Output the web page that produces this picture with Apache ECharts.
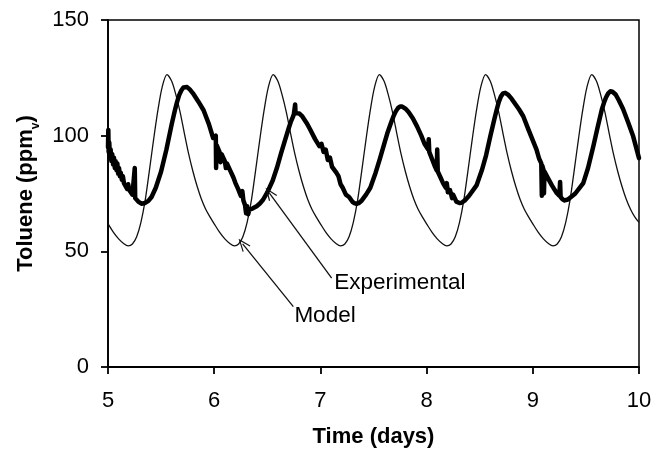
<!DOCTYPE html>
<html>
<head>
<meta charset="utf-8">
<script src="https://cdn.jsdelivr.net/npm/echarts@6/dist/echarts.min.js"></script>
<style>
html,body{margin:0;padding:0;background:#fff;}
#chart{width:654px;height:449px;}
</style>
</head>
<body>
<div id="chart"></div>
<script>
// ---- data ----
var xTicks = [5, 6, 7, 8, 9, 10];
var yTicks = [0, 50, 100, 150];

// Model (thin line): [time (days), toluene (ppmv)]
var modelSeries = [
  [5.00,62],[5.05,58.3],[5.10,55.4],[5.15,53.3],[5.19,52.4],[5.23,53.2],[5.27,56.3],[5.31,62.5],[5.35,72],[5.39,85],[5.43,98.5],[5.47,111],[5.51,121],[5.555,126.4],[5.60,123.5],[5.64,117.5],[5.68,110],[5.72,100.8],[5.76,92],[5.80,84.5],[5.84,78],[5.88,72.5],[5.92,68.2],[5.96,64.9],
  [6.00,61.9],[6.05,58.3],[6.10,55.4],[6.15,53.3],[6.19,52.4],[6.23,53.2],[6.27,56.3],[6.31,62.5],[6.35,72],[6.39,85],[6.43,98.5],[6.47,111],[6.51,121],[6.555,126.4],[6.60,123.5],[6.64,117.5],[6.68,110],[6.72,100.8],[6.76,92],[6.80,84.5],[6.84,78],[6.88,72.5],[6.92,68.2],[6.96,64.9],
  [7.00,61.9],[7.05,58.3],[7.10,55.4],[7.15,53.3],[7.19,52.4],[7.23,53.2],[7.27,56.3],[7.31,62.5],[7.35,72],[7.39,85],[7.43,98.5],[7.47,111],[7.51,121],[7.555,126.4],[7.60,123.5],[7.64,117.5],[7.68,110],[7.72,100.8],[7.76,92],[7.80,84.5],[7.84,78],[7.88,72.5],[7.92,68.2],[7.96,64.9],
  [8.00,61.9],[8.05,58.3],[8.10,55.4],[8.15,53.3],[8.19,52.4],[8.23,53.2],[8.27,56.3],[8.31,62.5],[8.35,72],[8.39,85],[8.43,98.5],[8.47,111],[8.51,121],[8.555,126.4],[8.60,123.5],[8.64,117.5],[8.68,110],[8.72,100.8],[8.76,92],[8.80,84.5],[8.84,78],[8.88,72.5],[8.92,68.2],[8.96,64.9],
  [9.00,61.9],[9.05,58.3],[9.10,55.4],[9.15,53.3],[9.19,52.4],[9.23,53.2],[9.27,56.3],[9.31,62.5],[9.35,72],[9.39,85],[9.43,98.5],[9.47,111],[9.51,121],[9.555,126.4],[9.60,123.5],[9.64,117.5],[9.68,110],[9.72,100.8],[9.76,92],[9.80,84.5],[9.84,78],[9.88,72.5],[9.92,68.2],[9.96,64.9],
  [10.00,62.5]
];

// Experimental (thick, noisy line): [time (days), toluene (ppmv)]
var experimentalSeries = [
  [5.000,95],[5.003,102.5],[5.006,93],[5.012,97],[5.018,91],[5.025,94],[5.032,89],[5.040,92],[5.048,87.5],[5.056,90.5],[5.064,86],[5.072,89],[5.080,85],[5.088,88],[5.096,83.5],[5.104,86],[5.112,82.5],[5.120,84],[5.130,81],[5.140,82.5],[5.150,79.5],[5.165,80],[5.180,77],[5.190,79],[5.200,76.5],[5.215,76],[5.230,74.5],[5.245,74],[5.252,86],[5.256,73],[5.270,72.5],[5.285,71.5],[5.300,71],[5.315,70.6],[5.330,70.7],
  [5.35,70.9],[5.38,71.8],[5.41,73.5],[5.45,77.5],[5.50,84.5],[5.55,94],[5.60,105],[5.63,111],[5.65,114.5],[5.67,117.5],[5.69,119.5],[5.71,120.8],[5.725,121.3],[5.745,121],[5.77,120],[5.80,118.3],[5.85,114.8],
  [5.90,111],[5.95,105],[5.99,99],[6.015,100],[6.018,86],[6.022,96],[6.05,93],[6.06,88.5],[6.07,92],[6.10,89],[6.11,86],[6.12,88],[6.15,85],[6.18,82],[6.20,79.5],[6.225,77],[6.24,77.5],[6.25,74],[6.265,76],[6.275,72],[6.29,70],[6.30,66.5],[6.31,69.5],[6.32,66],[6.33,68],
  [6.36,68.5],[6.40,69.5],[6.43,70.7],[6.46,72.3],[6.50,75.5],[6.55,80.5],[6.59,86],[6.63,92.5],[6.68,100],[6.70,103],[6.72,105.8],[6.74,108],[6.75,109.2],[6.762,113.5],[6.766,109.8],[6.78,110],[6.80,109.6],[6.83,108.3],
  [6.87,105.5],[6.90,103],[6.95,98.5],[6.99,95.5],[7.01,96.5],[7.03,93],[7.05,94],[7.07,89.5],[7.09,90.5],[7.11,86.5],[7.15,84],[7.17,82.5],[7.19,79],[7.21,77.5],[7.24,74.5],[7.27,73.5],[7.30,71.5],[7.32,70.8],[7.34,70.5],
  [7.36,70.8],[7.39,72],[7.43,74.5],[7.47,77.5],[7.52,84],[7.56,90],[7.59,94.7],[7.63,101],[7.67,106.2],[7.69,108.6],[7.71,110.5],[7.73,111.9],[7.75,112.6],[7.77,112.6],[7.80,111.7],[7.83,110.2],
  [7.87,107.5],[7.91,104],[7.95,100],[7.98,96.5],[8.015,94],[8.02,98.5],[8.025,93],[8.05,90],[8.08,86.5],[8.095,85],[8.10,94],[8.105,84.5],[8.13,82],[8.155,79.5],[8.18,77.5],[8.19,79.5],[8.20,75.5],[8.22,76.5],[8.24,73],[8.25,74.5],[8.28,71.5],[8.31,70.9],
  [8.33,71],[8.36,72],[8.40,74],[8.47,78.5],[8.52,85],[8.56,91.5],[8.60,99.7],[8.64,107.5],[8.66,111.2],[8.68,114.6],[8.70,117],[8.72,118.3],[8.74,118.5],[8.77,117.6],[8.80,116],
  [8.83,114],[8.87,111.4],[8.91,108.4],[8.96,102.5],[9.00,98],[9.035,94],[9.06,90],[9.08,88],[9.085,74],[9.09,87],[9.10,85.3],[9.105,75],[9.11,84.5],[9.15,81],[9.18,78.5],[9.20,77],[9.225,75.2],[9.25,74],[9.257,80],[9.262,73.5],[9.28,72.5],[9.30,72],
  [9.33,72.4],[9.36,73.5],[9.40,75],[9.475,79.5],[9.52,86],[9.57,95.4],[9.61,103.5],[9.65,111.3],[9.67,114.2],[9.69,116.6],[9.71,118.3],[9.73,119.2],[9.75,119],[9.78,117.8],[9.81,115.3],
  [9.85,111.5],[9.90,105.5],[9.945,99.7],[10.00,90.3]
];

// Annotations (data coordinates): arrow tip, arrow tail, label anchor
var annExperimental = {label: 'Experimental', tip: [6.52, 75.2], tail: [7.106, 38.4], text: [7.13, 36.3]};
var annModel = {label: 'Model', tip: [6.268, 53.2], tail: [6.745, 26.1], text: [6.755, 22.0]};

// ---- chart ----
var FONT = '"Liberation Sans", Arial, Helvetica, sans-serif';
var chevron = 'path://M5,0 L10,12 L8.9,12.4 L5,3 L1.1,12.4 L0,12 Z';

function arrowLine(a) {
  return [{coord: a.tip, symbol: chevron, symbolSize: [10, 13]}, {coord: a.tail, symbol: 'none'}];
}
function labelPoint(a) {
  return {coord: a.text, value: a.label};
}

var chart = echarts.init(document.getElementById('chart'), null, {renderer: 'canvas'});
chart.setOption({
  animation: false,
  backgroundColor: '#ffffff',
  textStyle: {fontFamily: FONT, color: '#000'},
  grid: {left: 108, right: 15, top: 20, bottom: 82, containLabel: false, outerBoundsMode: 'none',
         show: true, borderColor: '#000', borderWidth: 1.5, backgroundColor: '#fff'},
  xAxis: {
    type: 'value', min: xTicks[0], max: xTicks[xTicks.length - 1], interval: 1,
    name: 'Time (days)', nameLocation: 'middle', nameGap: 59,
    nameTextStyle: {fontFamily: FONT, fontSize: 22, fontWeight: 'bold', color: '#000'},
    axisLine: {lineStyle: {color: '#000', width: 1.8}},
    axisTick: {show: true, inside: false, length: 7, lineStyle: {color: '#000', width: 1.8}},
    axisLabel: {fontFamily: FONT, fontSize: 22, color: '#000', margin: 23},
    splitLine: {show: false}
  },
  yAxis: {
    type: 'value', min: yTicks[0], max: yTicks[yTicks.length - 1], interval: 50,
    name: '{b|Toluene (ppm}{s|v}{b|)}', nameLocation: 'middle', nameGap: 60,
    nameTextStyle: {
      fontFamily: FONT, color: '#000',
      rich: {
        b: {fontFamily: FONT, fontSize: 22, fontWeight: 'bold', color: '#000', verticalAlign: 'top'},
        s: {fontFamily: FONT, fontSize: 12, fontWeight: 'bold', color: '#000', verticalAlign: 'bottom', padding: [14, 0, 0, 0]}
      }
    },
    axisLine: {lineStyle: {color: '#000', width: 1.8}},
    axisTick: {show: true, inside: false, length: 7, lineStyle: {color: '#000', width: 1.8}},
    axisLabel: {fontFamily: FONT, fontSize: 22, color: '#000', margin: 19},
    splitLine: {show: false}
  },
  series: [
    {
      name: 'Model', type: 'line', data: modelSeries, showSymbol: false, smooth: 0.3,
      lineStyle: {color: '#111', width: 1.3}, z: 2,
      markLine: {
        silent: true, symbol: ['none', 'none'], label: {show: false},
        lineStyle: {color: '#111', width: 1.3, type: 'solid'},
        data: [arrowLine(annModel), arrowLine(annExperimental)]
      },
      markPoint: {
        silent: true, symbol: 'circle', symbolSize: 0,
        label: {show: true, position: 'right', distance: 0, formatter: '{c}', fontFamily: FONT, fontSize: 22.5, color: '#000'},
        data: [labelPoint(annModel), labelPoint(annExperimental)]
      }
    },
    {
      name: 'Experimental', type: 'line', data: experimentalSeries, showSymbol: false, smooth: false,
      lineStyle: {color: '#000', width: 4.5, join: 'round', cap: 'round'}, z: 3
    }
  ]
});
</script>
</body>
</html>
